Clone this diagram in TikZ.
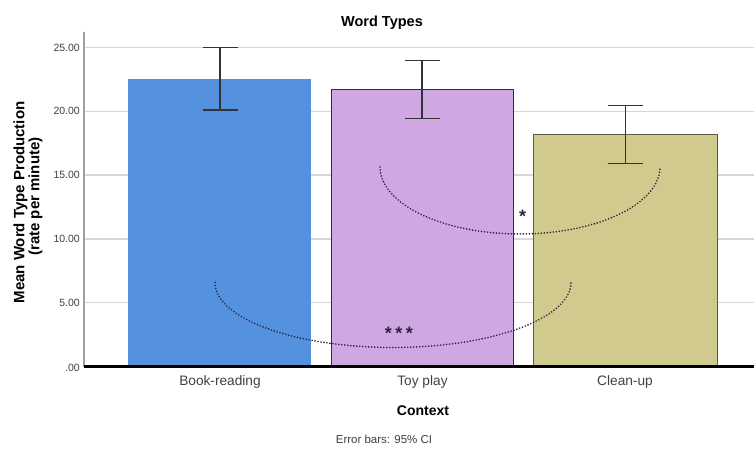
\documentclass[tikz,border=0pt]{standalone}
\usepackage{fontspec}
\setmainfont{Liberation Sans}
\definecolor{barblue}{RGB}{84,146,224}
\definecolor{barpurple}{RGB}{207,167,227}
\definecolor{barolive}{RGB}{209,202,142}
\definecolor{gridgray}{RGB}{215,215,215}
\definecolor{ticktext}{RGB}{65,65,65}
\definecolor{dotcol}{RGB}{45,35,65}
\begin{document}
\begin{tikzpicture}[x=1pt,y=-1pt,
  gridline/.style={gridgray, line width=1.4pt},
  ticklab/.style={anchor=east, font=\fontsize{10.5}{12}\selectfont, text=ticktext, inner sep=0pt},
  catlab/.style={font=\fontsize{13.7}{16}\selectfont, text=ticktext, inner sep=0pt},
  barbox/.style={anchor=north west, inner sep=0pt, outer sep=0pt},
  errbar/.style={line width=1.3pt, color=black!80},
  sigcurve/.style={dotcol, line width=1.8pt, dash pattern=on 0pt off 3pt, line cap=round},
  starlab/.style={anchor=base, font=\bfseries\fontsize{18}{20}\selectfont, text=dotcol, inner sep=0pt},
  ylab/.style={rotate=90, font=\bfseries\fontsize{15}{17}\selectfont, inner sep=0pt}]
\useasboundingbox[fill=white] (0,0) rectangle (754,449);
% gridlines
\foreach \v/\y in {25.00/47.5, 20.00/111.3, 15.00/175.1, 10.00/238.9, 5.00/302.7}{
  \draw[gridline] (84,\y) -- (754,\y);
  \node[ticklab] at (80,\y) {\v};
}
\node[ticklab] (t0) at (80,367.5) {.00};
% axis
\draw[gray!75, line width=1.5pt] (84,32) -- (84,366.5);
% bars
\node[barbox, fill=barblue, minimum width=183pt, minimum height=287.2pt] (b1) at (128,79.3) {};
\node[barbox, fill=barpurple, draw=black!75!barpurple, line width=0.9pt, minimum width=182.7pt, minimum height=277.2pt] (b2) at (331,89.3) {};
\node[barbox, fill=barolive, draw=black!55!barolive, line width=0.9pt, minimum width=183.3pt, minimum height=232.2pt] (b3) at (533.7,134.3) {};
% baseline
\draw[black, line width=2.6pt] (84,366.5) -- (754,366.5);
% error bars
\foreach \x/\t/\b/\n in {220/47.7/110/e1, 422/60.3/118.3/e2, 625.3/105.3/163.3/e3}{
  \coordinate (\n t) at (\x,\t);
  \coordinate (\n b) at (\x,\b);
  \draw[errbar] (\n t) -- (\n b);
  \draw[errbar] ([xshift=-17.5pt]\n t) -- ([xshift=17.5pt]\n t);
  \draw[errbar] ([xshift=-17.5pt]\n b) -- ([xshift=17.5pt]\n b);
}
% significance curves
\draw[sigcurve] plot[domain=180:360, samples=80] ({520+140*cos(\x)}, {167-67*sin(\x)});
\draw[sigcurve] plot[domain=180:360, samples=100] ({393+178*cos(\x)}, {282.5-65*sin(\x)});
\node[starlab] (s1) at (522.7,222.5) {*};
\node[starlab] (s3) at (399,339.5) {*\hspace{3.5pt}*\hspace{3.5pt}*};
% texts
\node[font=\bfseries\fontsize{14.5}{16}\selectfont, inner sep=0pt] (title) at (382,22.7) {Word Types};
\node[ylab] (yl1) at (20.5,202.5) {Mean Word Type Production};
\node[ylab] (yl2) at (35.5,196.5) {(rate per minute)};
\node[catlab] (c1) at (220,381.7) {Book-reading};
\node[catlab] (c2) at (422.5,381.7) {Toy play};
\node[catlab] (c3) at (625,381.7) {Clean-up};
\node[font=\bfseries\fontsize{14}{16}\selectfont, inner sep=0pt] (ctx) at (423,411) {Context};
\node[font=\fontsize{11.5}{13}\selectfont, text=ticktext, inner sep=0pt] (eb) at (384,439) {Error bars: 95\% CI};
\end{tikzpicture}
\end{document}
